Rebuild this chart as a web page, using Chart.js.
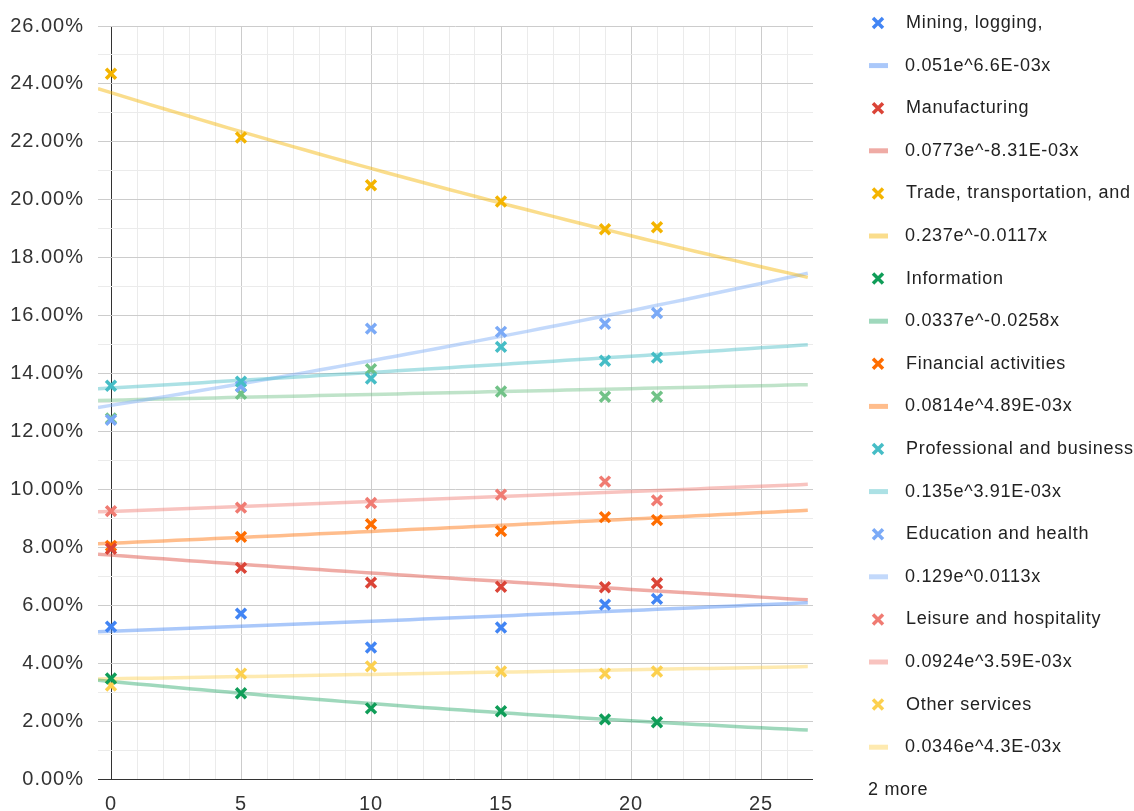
<!DOCTYPE html>
<html>
<head>
<meta charset="utf-8">
<script src="https://cdn.jsdelivr.net/npm/chart.js@4.4.1/dist/chart.umd.min.js"></script>
<style>
  html, body { margin: 0; padding: 0; background: #fff; }
  #wrap { width: 1134px; height: 811px; position: relative; }
</style>
</head>
<body>
<div id="wrap"><canvas id="chart"></canvas></div>
<script>
// x values (years since start)
var years = [0, 5, 10, 15, 19, 21];

var seriesNames = ["Mining, logging,", "Manufacturing", "Trade, transportation, and", "Information",
    "Financial activities", "Professional and business", "Education and health",
    "Leisure and hospitality", "Other services", "Government"];

// shares (fractions)
var mining = [0.0526, 0.0571, 0.0454, 0.0523, 0.0602, 0.0622];
var manufacturing = [0.0795, 0.0729, 0.0678, 0.0664, 0.0662, 0.0676];
var trade = [0.2435, 0.2215, 0.2050, 0.1994, 0.1898, 0.1905];
var information = [0.0347, 0.0296, 0.0244, 0.0234, 0.0206, 0.0196];
var financial = [0.0805, 0.0836, 0.0880, 0.0856, 0.0904, 0.0894];
var professional = [0.1358, 0.1372, 0.1383, 0.1492, 0.1444, 0.1455];
var education = [0.1240, 0.1355, 0.1555, 0.1544, 0.1572, 0.1609];
var leisure = [0.0925, 0.0937, 0.0953, 0.0982, 0.1027, 0.0962];
var otherServices = [0.0323, 0.0364, 0.0389, 0.0371, 0.0364, 0.0371];
var government = [0.1245, 0.1330, 0.1415, 0.1338, 0.1320, 0.1320];

// exponential trendlines a*e^(b*x), as printed in the legend
var trendA = [0.051, 0.0773, 0.237, 0.0337, 0.0814, 0.135, 0.129, 0.0924, 0.0346, 0.1308];
var trendB = [6.6e-3, -8.31e-3, -0.0117, -0.0258, 4.89e-3, 3.91e-3, 0.0113, 3.59e-3, 4.3e-3, 1.5e-3];
var trendLabels = ["0.051e^6.6E-03x", "0.0773e^-8.31E-03x", "0.237e^-0.0117x", "0.0337e^-0.0258x",
    "0.0814e^4.89E-03x", "0.135e^3.91E-03x", "0.129e^0.0113x", "0.0924e^3.59E-03x", "0.0346e^4.3E-03x",
    "0.1308e^1.5E-03x"];

var colors = ['#4285F4', '#DB4437', '#F4B400', '#0F9D58', '#FF6D00', '#46BDC6', '#7BAAF7', '#F07B72', '#FCD04F', '#71C287'];
var trendColors = ['rgba(66,133,244,0.45)', 'rgba(219,68,55,0.45)', 'rgba(244,180,0,0.45)', 'rgba(15,157,88,0.4)',
    'rgba(255,109,0,0.45)', 'rgba(70,189,198,0.45)', 'rgba(123,170,247,0.45)', 'rgba(240,123,114,0.45)',
    'rgba(252,208,79,0.45)', 'rgba(113,194,135,0.45)'];

var legendShown = 9;
var moreLabel = "2 more";

var allSeries = [mining, manufacturing, trade, information, financial, professional, education, leisure, otherServices, government];

var xMin = -0.5, xMax = 27, trendEnd = 26.8;
var FONT = '"Liberation Sans", Arial, sans-serif';

var datasets = [];
allSeries.forEach(function (vals, i) {
    datasets.push({
        type: 'scatter',
        label: seriesNames[i],
        data: years.map(function (x, j) { return { x: x, y: vals[j] }; }),
        pointStyle: 'crossRot',
        pointRadius: 7,
        pointBorderWidth: 3.5,
        borderColor: colors[i],
        backgroundColor: colors[i],
        order: 0
    });
    var pts = [];
    for (var x = xMin; x <= trendEnd + 1e-9; x += 0.5) {
        pts.push({ x: x, y: trendA[i] * Math.exp(trendB[i] * x) });
    }
    pts.push({ x: trendEnd, y: trendA[i] * Math.exp(trendB[i] * trendEnd) });
    datasets.push({
        type: 'line',
        label: trendLabels[i],
        data: pts,
        borderColor: trendColors[i],
        borderWidth: 3.5,
        pointRadius: 0,
        tension: 0,
        order: 1
    });
});

function drawX(ctx, x, y, color) {
    var r = 5;
    ctx.save();
    ctx.strokeStyle = color;
    ctx.lineWidth = 3.5;
    ctx.beginPath();
    ctx.moveTo(x - r, y - r); ctx.lineTo(x + r, y + r);
    ctx.moveTo(x + r, y - r); ctx.lineTo(x - r, y + r);
    ctx.stroke();
    ctx.restore();
}

var spacingPlugin = {
    id: 'spacing',
    beforeDraw: function (chart) { chart.ctx.letterSpacing = '1px'; }
};

var sideLegend = {
    id: 'sideLegend',
    afterDraw: function (chart) {
        var ctx = chart.ctx;
        var top = 23, pitch = 42.6;
        ctx.save();
        ctx.letterSpacing = '0.7px';
        ctx.font = '18px ' + FONT;
        ctx.textBaseline = 'middle';
        ctx.textAlign = 'left';
        ctx.fillStyle = '#222';
        for (var i = 0; i < legendShown; i++) {
            var y = top + 2 * i * pitch;
            drawX(ctx, 878, y, colors[i]);
            ctx.fillText(seriesNames[i], 906, y);
            y += pitch;
            ctx.save();
            ctx.strokeStyle = trendColors[i];
            ctx.lineWidth = 5;
            ctx.beginPath();
            ctx.moveTo(869, y); ctx.lineTo(888, y);
            ctx.stroke();
            ctx.restore();
            ctx.fillText(trendLabels[i], 905, y);
        }
        ctx.fillText(moreLabel, 868, top + 2 * legendShown * pitch);
        ctx.restore();
    }
};

new Chart(document.getElementById('chart'), {
    type: 'scatter',
    data: { datasets: datasets },
    plugins: [spacingPlugin, sideLegend],
    options: {
        responsive: true,
        maintainAspectRatio: false,
        animation: false,
        layout: { padding: { top: 23, right: 321, left: 0, bottom: 0 } },
        plugins: {
            legend: { display: false },
            tooltip: { enabled: false }
        },
        scales: {
            x: {
                type: 'linear',
                min: xMin,
                max: xMax,
                afterFit: function (s) { s.height = 32; },
                afterBuildTicks: function (s) {
                    var t = [];
                    for (var v = 0; v <= xMax; v++) t.push({ value: v });
                    s.ticks = t;
                },
                border: { display: false },
                grid: {
                    drawTicks: false,
                    color: function (c) {
                        var v = c.tick.value;
                        if (v === 0) return '#333';
                        if (v === xMax) return 'rgba(0,0,0,0)';
                        return v % 5 === 0 ? '#cccccc' : '#ebebeb';
                    }
                },
                ticks: {
                    autoSkip: false,
                    maxRotation: 0,
                    padding: 13,
                    color: '#333',
                    font: { size: 20, family: FONT },
                    callback: function (v) { return (v % 5 === 0) ? String(v) : ''; }
                }
            },
            y: {
                min: 0,
                max: 0.26,
                afterFit: function (s) { s.width = 98; },
                border: { display: false },
                grid: {
                    drawTicks: false,
                    color: function (c) {
                        var k = Math.round(c.tick.value * 100);
                        if (k === 0) return '#333';
                        return k % 2 === 0 ? '#cccccc' : '#ebebeb';
                    }
                },
                ticks: {
                    stepSize: 0.01,
                    autoSkip: false,
                    padding: 14,
                    color: '#333',
                    font: { size: 20, family: FONT },
                    callback: function (v) {
                        var k = Math.round(v * 100);
                        return k % 2 === 0 ? k.toFixed(2) + '%' : '';
                    }
                }
            }
        }
    }
});
</script>
</body>
</html>
